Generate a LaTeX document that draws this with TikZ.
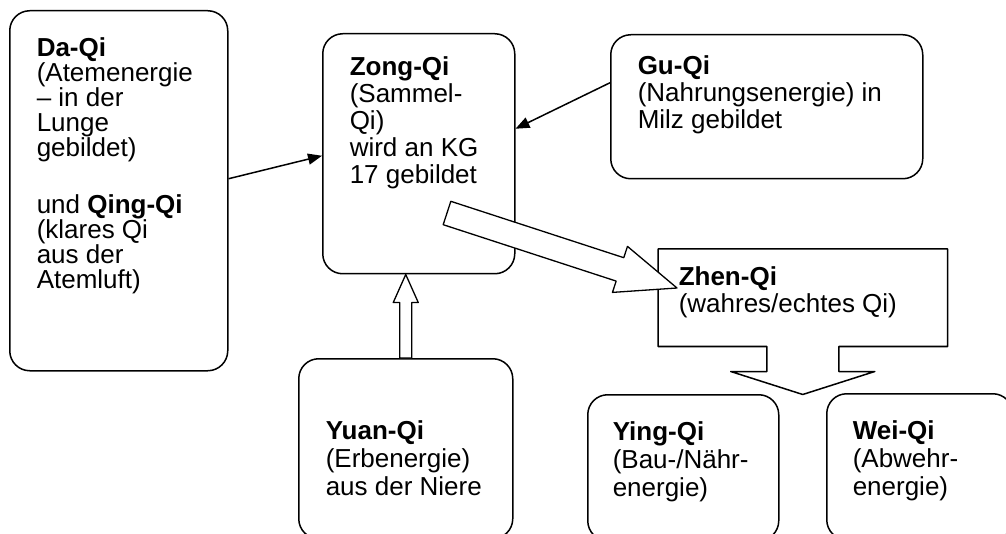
\documentclass[tikz,border=0pt]{standalone}
\usepackage{fontspec}
\setmainfont{Liberation Sans}
\usetikzlibrary{arrows.meta,calc}

% 空心块箭头：#1 尾  #2 尖  #3 半杆宽  #4 半头宽  #5 头长
\newcommand\hohlpfeil[5]{%
  \draw[hohl] ($(#1)!#3!90:(#2)$)
    -- ($(#2)!#5!(#1)!#3!-90:(#1)$)
    -- ($(#2)!#5!(#1)!#4!-90:(#1)$)
    -- (#2)
    -- ($(#2)!#5!(#1)!#4!90:(#1)$)
    -- ($(#2)!#5!(#1)!#3!90:(#1)$)
    -- ($(#1)!#3!-90:(#2)$) -- cycle;}

\begin{document}
\begin{tikzpicture}[x=1pt, y=-1pt, line width=1.5pt, line join=round,
  kasten/.style 2 args={draw, rounded corners=20pt, anchor=north west, inner sep=0pt,
    minimum width=#1, minimum height=#2},
  txt/.style={anchor=north west, inner sep=0pt, align=left,
    font=\fontsize{26}{27}\selectfont},
  pfeil/.style={-{Triangle[length=14pt,width=11pt]}},
  hohl/.style={draw, fill=white, line width=1.3pt}]

  % 钉死画布
  \useasboundingbox (0,0) rectangle (1006,534);

  %% ════ 圆角框 ════
  \node[kasten={218pt}{360pt}] (daqi) at (9,10) {};
  \node[kasten={192pt}{240pt}] (zong) at (322,33) {};
  \node[kasten={312pt}{144pt}] (gu)   at (610,34) {};
  \node[kasten={214pt}{180pt}] (yuan) at (298,358) {};
  \node[kasten={191pt}{146pt}] (ying) at (587,394) {};
  \node[kasten={186pt}{146pt}] (wei)  at (826,393) {};

  %% ════ Zhen-Qi：矩形 + 向下箭头（一条轮廓）════
  \node[anchor=north west, inner sep=0pt, minimum width=288pt, minimum height=96pt] (zhen) at (658,249) {};
  \draw (zhen.north west) -- (zhen.north east) -- (zhen.south east)
    -- ([xshift=36pt]zhen.south) -- ++(0,25) -- ++(36,0)
    -- ([yshift=-48pt]zhen.south) -- ++(-72,-23) -- ++(36,0) -- ++(0,-25)
    -- (zhen.south west) -- cycle;

  %% ════ 文字 ════
  \node[txt, font=\fontsize{26}{25}\selectfont] (daqi-t) at (36,37) {\textbf{Da-Qi}\\(Atemenergie\\– in der\\Lunge\\gebildet)\\[32pt]und \textbf{Qing-Qi}\\(klares Qi\\aus der\\Atemluft)};
  \node[txt] (zong-t) at (349,56) {\textbf{Zong-Qi}\\(Sammel-\\Qi)\\wird an KG\\17 gebildet};
  \node[txt] (gu-t)   at (637,55) {\textbf{Gu-Qi}\\(Nahrungsenergie) in\\Milz gebildet};
  \node[txt] (zhen-t) at (678,266) {\textbf{Zhen-Qi}\\(wahres/echtes Qi)};
  \node[txt, font=\fontsize{26}{28}\selectfont] (yuan-t) at (325,420) {\textbf{Yuan-Qi}\\(Erbenergie)\\aus der Niere};
  \node[txt, font=\fontsize{26}{28}\selectfont] (ying-t) at (612,421) {\textbf{Ying-Qi}\\(Bau-/Nähr-\\energie)};
  \node[txt, font=\fontsize{26}{28}\selectfont] (wei-t)  at (852,420) {\textbf{Wei-Qi}\\(Abwehr-\\energie)};

  %% ════ 细箭头 ════
  \draw[pfeil] ([yshift=12pt]daqi.east) -- ([yshift=-2pt]zong.west);
  \draw[pfeil] ([yshift=24pt]gu.west) -- ([yshift=25pt]zong.east);

  %% ════ 空心箭头 ════
  \coordinate (zschaft) at (447,213);
  \coordinate (zspitze) at (677,288);
  \hohlpfeil{zschaft}{zspitze}{12.3pt}{24.2pt}{60pt}
  \coordinate (yspitze) at (yuan.north |- zong.south);
  \hohlpfeil{yuan.north}{yspitze}{6pt}{12.5pt}{28pt}
\end{tikzpicture}
\end{document}
